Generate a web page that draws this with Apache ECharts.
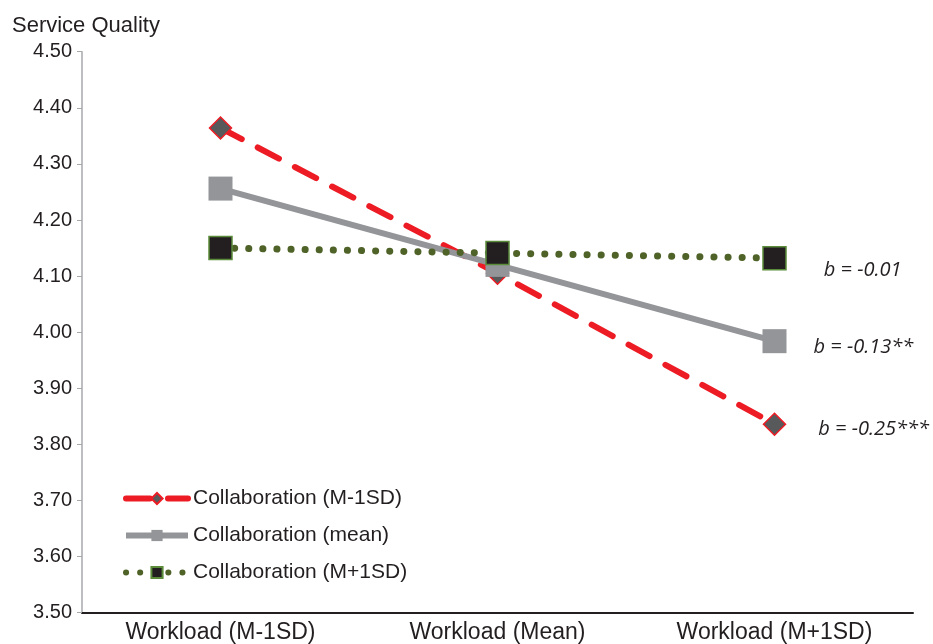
<!DOCTYPE html>
<html>
<head>
<meta charset="utf-8">
<script src="https://cdn.jsdelivr.net/npm/echarts@6/dist/echarts.min.js"></script>
<style>
  html,body{margin:0;padding:0;background:#fff;}
  #chart{width:933px;height:644px;}
</style>
</head>
<body>
<div id="chart"></div>
<script>
// categories on the x axis
var workload = ['Workload (M-1SD)', 'Workload (Mean)', 'Workload (M+1SD)'];
// simple slopes, one line per collaboration level
var collabLow  = [4.364, 4.105, 3.836];
var collabMean = [4.256, 4.120, 3.984];
var collabHigh = [4.150, 4.141, 4.132];
// slope notes next to the last point
var slopeNotes = ['b = -0.25***', 'b = -0.13**', 'b = -0.01'];
var names = ['Collaboration (M-1SD)', 'Collaboration (mean)', 'Collaboration (M+1SD)'];

var txt = '#231f20';
var font = 'Liberation Sans, Arial, sans-serif';

function withNote(vals, note, dist, dy){
    return vals.map(function(v, i){
        if(i !== vals.length - 1) return v;
        return {
            value: v,
            label: {
                show: true, position: 'right', distance: dist, offset: [0, dy],
                formatter: note,
                fontFamily: 'Open Sans', fontStyle: 'italic', fontSize: 20, color: txt
            }
        };
    });
}

var chart = echarts.init(document.getElementById('chart'));
var option = {
    animation: false,
    title: {
        text: 'Service Quality', left: 7, top: 10,
        textStyle: {fontFamily: font, fontWeight: 'normal', fontSize: 22, color: txt}
    },
    grid: {left: 82, right: 20, top: 51.7, bottom: 31.3, containLabel: false},
    legend: {
        orient: 'vertical', left: 118, top: 483,
        itemWidth: 62, itemHeight: 14, itemGap: 16,
        data: names,
        lineStyle: {width: 6},
        textStyle: {fontFamily: font, fontSize: 21, color: txt}
    },
    xAxis: {
        type: 'category',
        data: workload,
        boundaryGap: true,
        axisLine: {lineStyle: {color: '#231f20', width: 2}},
        axisTick: {inside: true, length: 6, alignWithLabel: true, lineStyle: {color: '#231f20', width: 2}},
        axisLabel: {fontFamily: font, fontSize: 23, color: txt, margin: 8},
        splitLine: {show: false}
    },
    yAxis: {
        type: 'value', min: 3.5, max: 4.5, interval: 0.1,
        axisLine: {show: true, lineStyle: {color: '#a7a9ac', width: 1.5}},
        axisTick: {show: true, length: 5, lineStyle: {color: '#a7a9ac'}},
        axisLabel: {fontFamily: font, fontSize: 20, color: txt, margin: 10,
            formatter: function(v){ return v.toFixed(2); }},
        splitLine: {show: false}
    },
    series: [
        {
            name: names[0], type: 'line',
            data: withNote(collabLow, slopeNotes[0], 32, 5),
            symbol: 'diamond', symbolSize: 22,
            itemStyle: {color: '#58595b', borderColor: '#ed1c24', borderWidth: 1.5},
            lineStyle: {color: '#ed1c24', width: 6, type: [24, 18], cap: 'round'}
        },
        {
            name: names[1], type: 'line',
            data: withNote(collabMean, slopeNotes[1], 27, 6),
            symbol: 'rect', symbolSize: 24,
            itemStyle: {color: '#939598', borderColor: '#939598', borderWidth: 0},
            lineStyle: {color: '#939598', width: 6}
        },
        {
            name: names[2], type: 'line',
            data: withNote(collabHigh, slopeNotes[2], 37, 12),
            symbol: 'rect', symbolSize: 23,
            itemStyle: {color: '#231f20', borderColor: '#5b8c3a', borderWidth: 1.5},
            lineStyle: {color: '#4f6228', width: 7, type: [0.1, 14], cap: 'round'}
        }
    ]
};
chart.setOption(option);
</script>
</body>
</html>
